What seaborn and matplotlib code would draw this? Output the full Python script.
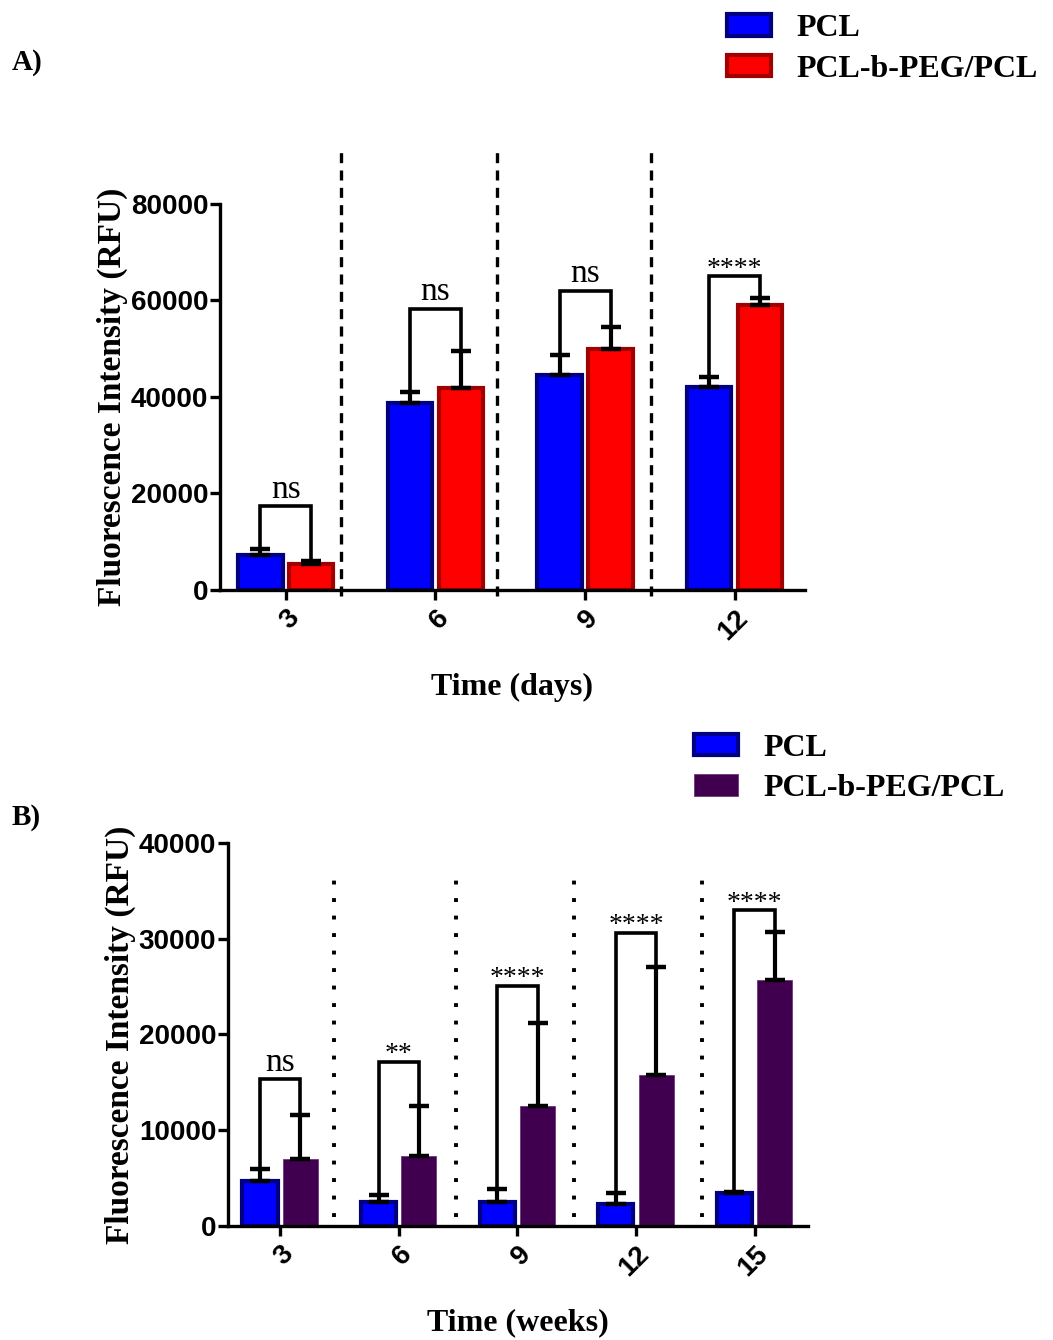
import numpy as np
import pandas as pd
import matplotlib.pyplot as plt
import seaborn as sns
from matplotlib.patches import Patch

# 数据 A: 天
days = ["3", "6", "9", "12"]
a_pcl = [7300, 38800, 44600, 42100]
a_pcl_err = [1150, 2300, 4000, 2100]
a_peg = [5400, 41900, 49900, 59000]
a_peg_err = [700, 7600, 4600, 1450]
a_bracket = [17300, 58300, 62000, 65000]
a_sig = ["ns", "ns", "ns", "****"]

# 数据 B: 周
weeks = ["3", "6", "9", "12", "15"]
b_pcl = [4700, 2550, 2550, 2250, 3450]
b_pcl_err = [1200, 700, 1300, 1150, 100]
b_peg = [6950, 7350, 12550, 15750, 25700]
b_peg_err = [4600, 5150, 8600, 11250, 5050]
b_bracket = [15300, 17150, 25100, 30600, 32950]
b_sig = ["ns", "**", "****", "****", "****"]

groups = ["PCL", "PCL-b-PEG/PCL"]

sns.set_style("ticks", {"axes.edgecolor": "black", "text.color": "black",
                        "xtick.color": "black", "ytick.color": "black",
                        "axes.labelcolor": "black"})
plt.rcParams['font.family'] = ['Liberation Sans', 'DejaVu Sans']
SERIF = 'Liberation Serif'

fig = plt.figure(figsize=(10.53, 13.4), dpi=100)
axA = fig.add_axes([0.2089, 0.5597, 0.5556, 0.3351])
axB = fig.add_axes([0.2165, 0.0851, 0.5508, 0.2930])


def draw_panel(ax, cats, pcl, pcl_err, peg, peg_err, brk, sig, colors, edges, edge_lw,
               ymax, ytop, seps, sep_y, sep_style, xlabel, xlim):
    df = pd.DataFrame({
        "time": cats * 2,
        "value": pcl + peg,
        "group": [groups[0]] * len(cats) + [groups[1]] * len(cats),
    })
    sns.barplot(data=df, x="time", y="value", hue="group", order=cats,
                hue_order=groups, palette=colors, errorbar=None, saturation=1,
                width=0.68, gap=0.13, ax=ax, legend=False, zorder=2)
    errs = [pcl_err, peg_err]
    tops = []
    bars = list(ax.containers)
    for k, cont in enumerate(bars):
        xs, ts = [], []
        for bar, e in zip(cont, errs[k]):
            bar.set_edgecolor(edges[k])
            bar.set_linewidth(edge_lw[k])
            x = bar.get_x() + bar.get_width() / 2
            h = bar.get_height()
            ax.errorbar(x, h, yerr=[[0], [e]], fmt='none', ecolor='black',
                        elinewidth=3.0, capsize=7, capthick=3.2, zorder=3)
            xs.append(x)
            ts.append(h + e)
        tops.append((xs, ts))
    # 显著性括号
    for i in range(len(cats)):
        x1, x2 = tops[0][0][i], tops[1][0][i]
        y1, y2 = tops[0][1][i], tops[1][1][i]
        ax.plot([x1, x1, x2, x2], [y1, brk[i], brk[i], y2], color='black',
                lw=2.6, zorder=4, solid_joinstyle='miter')
        if sig[i] == "ns":
            ax.text((x1 + x2) / 2, brk[i] + ymax * 0.003, "ns", ha='center',
                    va='bottom', fontsize=24, family=SERIF)
        else:
            ax.text((x1 + x2) / 2, brk[i] - ymax * 0.014, sig[i], ha='center',
                    va='bottom', fontsize=20, family=SERIF)
    for s in seps:
        ax.plot([s, s], sep_y, color='black', lw=sep_style[1], linestyle=sep_style[0],
                clip_on=False, zorder=1)
    ax.set_xlim(*xlim)
    ax.set_ylim(0, ytop)
    ax.set_yticks(np.linspace(0, ymax, 5))
    ax.spines['left'].set_bounds(0, ymax)
    sns.despine(ax=ax)
    for sp in ['left', 'bottom']:
        ax.spines[sp].set_linewidth(2.4)
    ax.tick_params(axis='both', width=2.4, length=7, labelsize=20)
    ax.tick_params(axis='y', pad=1.5)
    for lab in ax.get_yticklabels():
        lab.set_fontweight('bold')
    plt.setp(ax.get_xticklabels(), rotation=45, ha='right',
             rotation_mode='anchor', fontweight='bold')
    ax.set_xlabel(xlabel, family=SERIF, fontsize=23, fontweight='bold', labelpad=20)
    ax.set_ylabel("Fluorescence Intensity (RFU)", family=SERIF, fontsize=24,
                  fontweight='bold', labelpad=2, y=ymax / 2 / ytop)


draw_panel(axA, days, a_pcl, a_pcl_err, a_peg, a_peg_err, a_bracket, a_sig,
           ["#0000FF", "#FF0000"], ["#000080", "#A00000"], [3.0, 3.0],
           80000, 93000, [0.37, 1.41, 2.44], [-1200, 92000], ((0, (3, 2.2)), 2.4),
           "Time (days)", (-0.44, 3.47))
draw_panel(axB, weeks, b_pcl, b_pcl_err, b_peg, b_peg_err, b_bracket, b_sig,
           ["#0000FF", "#40004F"], ["#000080", "#6A3A78"], [3.0, 0.6],
           40000, 41000, [0.45, 1.48, 2.48, 3.56], [900, 37200], ((0, (1, 3.5)), 2.8),
           "Time (weeks)", (-0.44, 4.45))

# 图例
leg_kw = dict(loc='upper left', frameon=False, handlelength=1.38, handleheight=0.66,
              handletextpad=0.8, labelspacing=0.36,
              prop={'family': SERIF, 'weight': 'bold', 'size': 23})
legA = [Patch(facecolor="#0000FF", edgecolor="#000080", lw=3, label=groups[0]),
        Patch(facecolor="#FF0000", edgecolor="#A00000", lw=3, label=groups[1])]
fig.legend(handles=legA, bbox_to_anchor=(0.663, 1.011), **leg_kw)
legB = [Patch(facecolor="#0000FF", edgecolor="#000080", lw=3, label=groups[0]),
        Patch(facecolor="#40004F", edgecolor="#6A3A78", lw=0.6, label=groups[1])]
fig.legend(handles=legB, bbox_to_anchor=(0.632, 0.474), **leg_kw)

fig.text(0.011, 0.953, "A)", family=SERIF, fontweight='bold', fontsize=21, va='center')
fig.text(0.011, 0.390, "B)", family=SERIF, fontweight='bold', fontsize=21, va='center')

fig.savefig("out.png", dpi=100)
